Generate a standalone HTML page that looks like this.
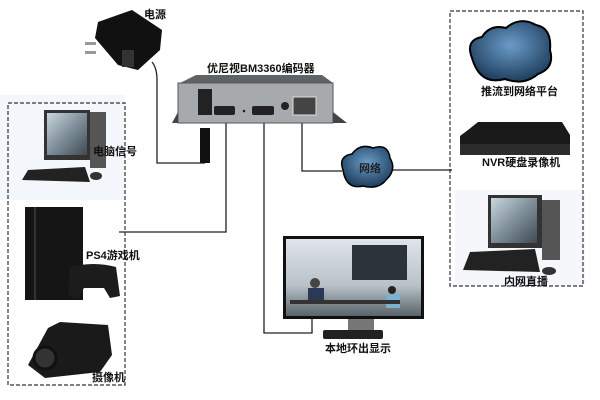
<!DOCTYPE html>
<html><head><meta charset="utf-8"><style>
body{margin:0;background:#fff;overflow:hidden}
svg{display:block}
text{font-family:"Liberation Sans","Noto Sans CJK SC",sans-serif;font-weight:bold;font-size:11px;fill:#111}
</style></head><body>
<svg width="600" height="400" viewBox="0 0 600 400">
<defs>
<radialGradient id="cl" cx="50%" cy="40%" r="60%"><stop offset="0" stop-color="#6a9cc8"/><stop offset="1" stop-color="#1f3e5e"/></radialGradient>
<linearGradient id="scr" x1="0" y1="0" x2="1" y2="1"><stop offset="0" stop-color="#c9d6de"/><stop offset="0.5" stop-color="#7f8f99"/><stop offset="1" stop-color="#3e4a52"/></linearGradient>
<linearGradient id="scr2" x1="0" y1="0" x2="0" y2="1"><stop offset="0" stop-color="#dfe5ea"/><stop offset="0.6" stop-color="#b8c2c8"/><stop offset="1" stop-color="#59636a"/></linearGradient>
</defs>
<rect x="0" y="95" width="125" height="105" fill="#f3f6fa"/>
<rect x="455" y="190" width="130" height="95" fill="#f5f7fa"/>
<rect x="8" y="103" width="117" height="282" fill="none" stroke="#333" stroke-width="1.2" stroke-dasharray="4,2"/>
<rect x="450" y="11" width="133" height="275" fill="none" stroke="#333" stroke-width="1.2" stroke-dasharray="4,2"/>
<g fill="none" stroke="#222" stroke-width="1.3">
<path d="M152 62 Q157 68 157 80 V163 H205"/>
<path d="M226 122 V232 H119"/>
<path d="M264 122 V333 H312 V319"/>
<path d="M302 122 V171 H342"/>
<path d="M392 170 H452"/>
</g>
<!-- adapter -->
<path d="M98 22 L132 10 L162 30 L160 50 L138 70 L118 65 L95 38 Z" fill="#111"/>
<rect x="85" y="42" width="11" height="3" fill="#999"/><rect x="85" y="51" width="11" height="3" fill="#999"/>
<rect x="122" y="50" width="12" height="17" fill="#333"/>
<text x="144" y="18">电源</text>
<rect x="200" y="128" width="10" height="35" fill="#111"/>
<!-- encoder -->
<text x="207" y="72">优尼视BM3360编码器</text>
<path d="M180 83 L196 75 L322 75 L333 83 Z" fill="#5f6366"/>
<rect x="178" y="83" width="155" height="40" fill="#a6aaad" stroke="#555"/>
<path d="M172 123 L178 112 L178 123 Z M333 112 L347 123 L333 123 Z" fill="#444"/>
<rect x="198" y="89" width="14" height="26" fill="#222"/>
<rect x="214" y="106" width="21" height="9" rx="2" fill="#222"/>
<circle cx="244" cy="111" r="1.3" fill="#222"/>
<rect x="252" y="106" width="22" height="9" rx="2" fill="#222"/>
<circle cx="285" cy="106" r="4" fill="#222"/>
<rect x="293" y="97" width="23" height="18" fill="#444" stroke="#ddd"/>
<!-- left PC -->
<rect x="44" y="110" width="46" height="50" fill="#333"/>
<rect x="47" y="113" width="40" height="42" fill="url(#scr)"/>
<rect x="90" y="112" width="16" height="56" fill="#555"/>
<path d="M28 170 L85 167 L90 182 L22 180 Z" fill="#222"/>
<ellipse cx="96" cy="176" rx="6" ry="4" fill="#333"/>
<text x="93" y="155">电脑信号</text>
<!-- PS4 -->
<rect x="25" y="207" width="58" height="93" fill="#151515"/>
<rect x="34" y="207" width="2" height="93" fill="#333"/>
<path d="M70 267 Q94 261 116 267 L120 296 L110 298 L104 288 L84 288 L78 298 L68 296 Z" fill="#1c1c1c"/>
<text x="86" y="259">PS4游戏机</text>
<!-- camera -->
<path d="M48 328 L60 322 L108 325 L112 355 L100 372 L45 378 L28 365 Z" fill="#1a1a1a"/>
<circle cx="45" cy="358" r="11" fill="#333" stroke="#111" stroke-width="3"/>
<text x="92" y="381">摄像机</text>
<!-- network cloud -->
<path d="M343 170 Q338 156 352 154 Q360 143 373 148 Q388 143 390 158 Q397 170 386 180 Q378 190 363 186 Q346 190 343 170 Z" fill="url(#cl)" stroke="#000" stroke-width="1.5"/>
<text x="359" y="172" style="fill:#222">网络</text>
<!-- monitor -->
<rect x="283" y="236" width="141" height="83" fill="#111"/>
<rect x="286" y="239" width="135" height="77" fill="url(#scr2)"/>
<rect x="352" y="245" width="55" height="35" fill="#2b3338"/>
<circle cx="315" cy="283" r="5" fill="#444"/><rect x="308" y="288" width="16" height="16" fill="#2a3a55"/>
<circle cx="392" cy="290" r="4" fill="#222"/><rect x="386" y="294" width="14" height="14" fill="#7bb0cf"/>
<rect x="290" y="300" width="110" height="4" fill="#333"/>
<rect x="348" y="319" width="26" height="11" fill="#777"/>
<rect x="323" y="330" width="60" height="9" rx="2" fill="#222"/>
<text x="325" y="352">本地环出显示</text>
<!-- right cloud -->
<path d="M472 58 Q465 40 482 37 Q490 24 506 28 Q520 16 536 25 Q552 28 550 50 Q555 68 538 74 Q524 86 505 79 Q480 86 472 58 Z" fill="url(#cl)" stroke="#000" stroke-width="2"/>
<text x="481" y="95">推流到网络平台</text>
<!-- NVR -->
<path d="M468 130 L478 122 L562 122 L570 135 L570 155 L460 155 L460 136 Z" fill="#1a1a1a"/>
<rect x="460" y="144" width="110" height="11" fill="#2c2c2c"/>
<text x="482" y="166">NVR硬盘录像机</text>
<!-- right PC -->
<rect x="488" y="195" width="54" height="53" fill="#333"/>
<rect x="491" y="198" width="46" height="45" fill="url(#scr)"/>
<rect x="542" y="200" width="18" height="60" fill="#555"/>
<path d="M470 252 L535 249 L540 272 L463 270 Z" fill="#222"/>
<ellipse cx="549" cy="271" rx="7" ry="4" fill="#333"/>
<text x="504" y="285">内网直播</text>
</svg>
</body></html>
